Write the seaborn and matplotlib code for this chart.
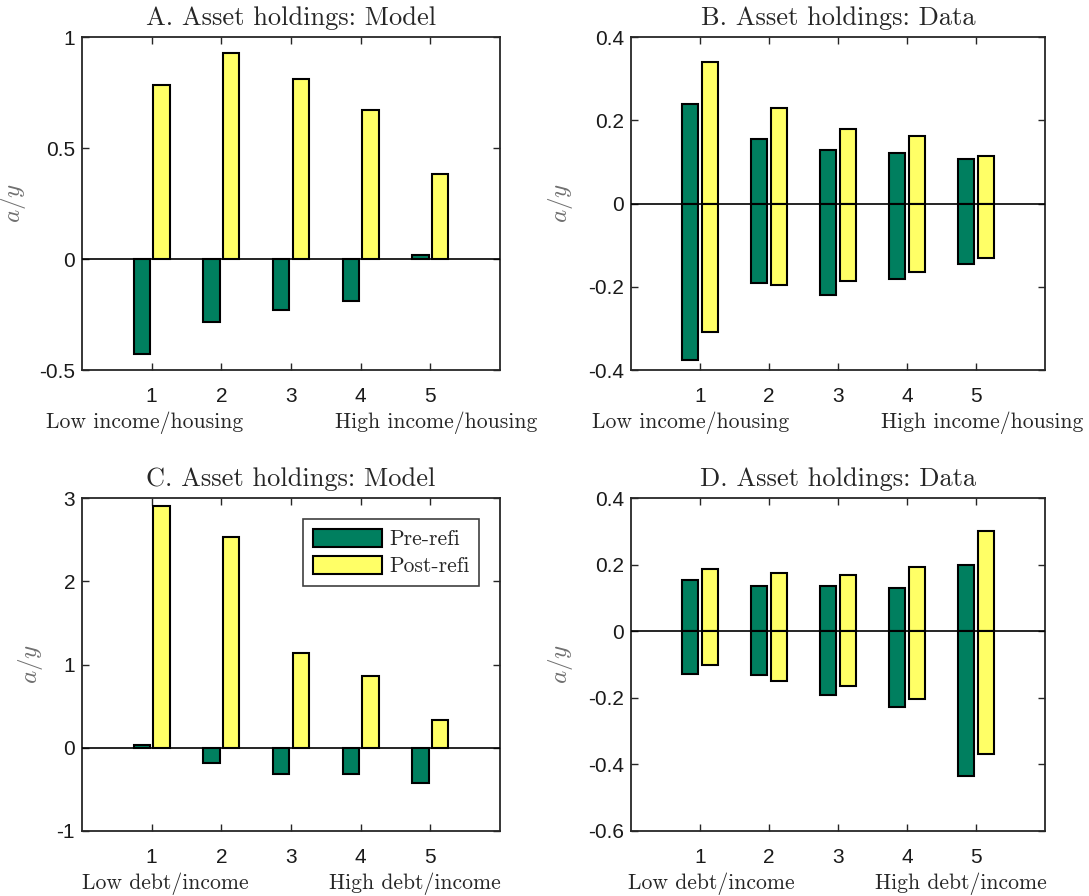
import matplotlib
matplotlib.use("Agg")
import matplotlib.pyplot as plt
from matplotlib.patches import Patch
import numpy as np
import pandas as pd
import seaborn as sns

# Quintile groups
groups = ["1", "2", "3", "4", "5"]
series_names = ["Pre-refi", "Post-refi"]

# A: model, sorted by income/housing
a_pre = [-0.430, -0.285, -0.230, -0.190, 0.017]
a_post = [0.786, 0.926, 0.813, 0.670, 0.384]

# B: data ranges, sorted by income/housing
b_pre_hi = [0.240, 0.155, 0.128, 0.121, 0.106]
b_pre_lo = [-0.375, -0.192, -0.220, -0.182, -0.146]
b_post_hi = [0.339, 0.229, 0.179, 0.161, 0.114]
b_post_lo = [-0.308, -0.196, -0.186, -0.165, -0.132]

# C: model, sorted by debt/income
c_pre = [0.032, -0.189, -0.317, -0.317, -0.426]
c_post = [2.90, 2.53, 1.14, 0.863, 0.329]

# D: data ranges, sorted by debt/income
d_pre_hi = [0.155, 0.137, 0.137, 0.129, 0.200]
d_pre_lo = [-0.130, -0.132, -0.192, -0.228, -0.434]
d_post_hi = [0.188, 0.175, 0.170, 0.193, 0.302]
d_post_lo = [-0.102, -0.149, -0.165, -0.205, -0.368]

titles = ["A. Asset holdings: Model", "B. Asset holdings: Data",
          "C. Asset holdings: Model", "D. Asset holdings: Data"]
low_labels = ["Low income/housing", "Low income/housing",
              "Low debt/income", "Low debt/income"]
high_labels = ["High income/housing", "High income/housing",
               "High debt/income", "High debt/income"]

GREEN = "#007F5F"
YELLOW = "#FFFF66"
palette = {"Pre-refi": GREEN, "Post-refi": YELLOW}

sns.set_style("white")
plt.rcParams["axes.unicode_minus"] = False
plt.rcParams["mathtext.fontset"] = "cm"
plt.rcParams["font.family"] = ["Liberation Sans", "DejaVu Sans"]

SERIF = "cmr10"
AX_COLOR = "#262626"


def long_frame(pre, post):
    return pd.DataFrame({
        "group": groups * 2,
        "series": [series_names[0]] * len(groups) + [series_names[1]] * len(groups),
        "value": list(pre) + list(post),
    })


def bars(ax, pre, post):
    sns.barplot(data=long_frame(pre, post), x="group", y="value", hue="series",
                order=groups, hue_order=series_names, palette=palette,
                width=0.56, gap=0.16, edgecolor="black", linewidth=1.5,
                saturation=1, legend=False, ax=ax, zorder=2)


fig = plt.figure(figsize=(10.89, 8.96), dpi=100)
W, H = 1089, 896
boxes = [(82, 37, 500, 370), (631, 37, 1045, 370),
         (82, 498, 500, 831), (631, 498, 1045, 831)]
axes = [fig.add_axes([l / W, 1 - b / H, (r - l) / W, (b - t) / H])
        for (l, t, r, b) in boxes]

bars(axes[0], a_pre, a_post)
# Range bars drawn as the part above zero plus the part below zero
bars(axes[1], b_pre_hi, b_post_hi)
bars(axes[1], b_pre_lo, b_post_lo)
bars(axes[2], c_pre, c_post)
bars(axes[3], d_pre_hi, d_post_hi)
bars(axes[3], d_pre_lo, d_post_lo)

ylims = [(-0.5, 1.0), (-0.4, 0.4), (-1, 3), (-0.6, 0.4)]
yticks = [[-0.5, 0, 0.5, 1], [-0.4, -0.2, 0, 0.2, 0.4],
          [-1, 0, 1, 2, 3], [-0.6, -0.4, -0.2, 0, 0.2, 0.4]]
ytick_labels = [["-0.5", "0", "0.5", "1"], ["-0.4", "-0.2", "0", "0.2", "0.4"],
                ["-1", "0", "1", "2", "3"], ["-0.6", "-0.4", "-0.2", "0", "0.2", "0.4"]]
ylabel_x = [-0.13, -0.136, -0.088, -0.136]
low_x = [0.151, 0.145, 0.200, 0.195]
high_x = [0.847, 0.848, 0.797, 0.797]

for i, ax in enumerate(axes):
    ax.axhline(0, color="black", lw=1.2, zorder=5)
    ax.set_xlim(-1, 5)
    ax.set_ylim(*ylims[i])
    ax.set_yticks(yticks[i])
    ax.set_yticklabels(ytick_labels[i])
    ax.set_xticks(range(len(groups)))
    ax.set_xticklabels(groups)
    ax.set_xlabel("")
    ax.set_ylabel(r"$a/y$", fontsize=18, color="#707070")
    ax.yaxis.set_label_coords(ylabel_x[i], 0.5)
    ax.tick_params(axis="both", direction="in", length=5, width=1,
                   color=AX_COLOR, labelsize=15, labelcolor="#1a1a1a",
                   top=True, right=True, bottom=True, left=True)
    ax.tick_params(axis="x", pad=12)
    ax.tick_params(axis="y", pad=5)
    for sp in ax.spines.values():
        sp.set_color(AX_COLOR)
        sp.set_linewidth(1.3)
        sp.set_visible(True)
    ax.set_title(titles[i], fontfamily=SERIF, fontsize=19, pad=9)
    ax.text(low_x[i], -0.157, low_labels[i], transform=ax.transAxes,
            ha="center", va="center", fontfamily=SERIF, fontsize=15.6)
    ax.text(high_x[i], -0.157, high_labels[i], transform=ax.transAxes,
            ha="center", va="center", fontfamily=SERIF, fontsize=15.6)

handles = [Patch(facecolor=palette[s], edgecolor="black", linewidth=1.5) for s in series_names]
leg = axes[2].legend(handles, series_names, loc="upper right",
                     bbox_to_anchor=(0.95, 0.937), borderaxespad=0,
                     frameon=True, fancybox=False, framealpha=1,
                     edgecolor="#404040", handlelength=3.2, handleheight=0.95,
                     labelspacing=0.3, borderpad=0.45, handletextpad=0.35,
                     prop={"family": SERIF, "size": 15.5})
leg.get_frame().set_linewidth(1.2)

fig.savefig("out.png", dpi=100)
